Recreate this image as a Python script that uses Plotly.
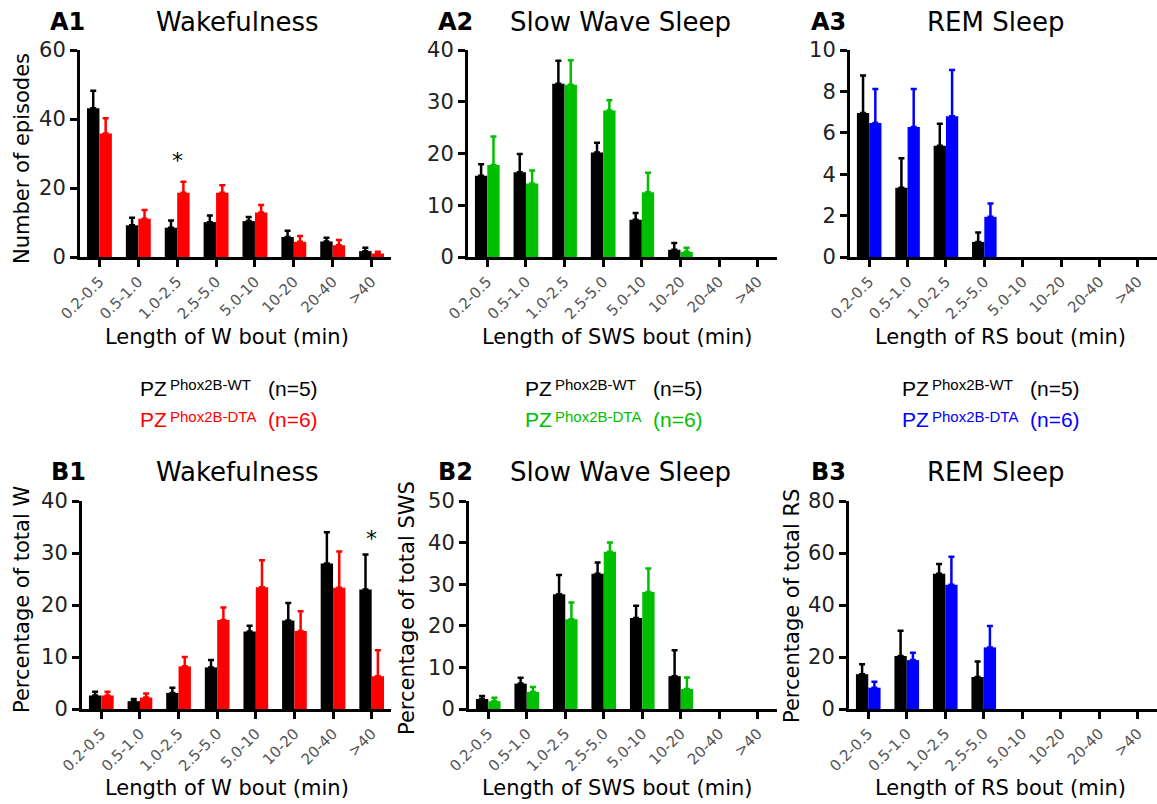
import plotly.graph_objects as go

W, H = 1157, 804

categories = ["0.2-0.5", "0.5-1.0", "1.0-2.5", "2.5-5.0", "5.0-10", "10-20", "20-40", ">40"]

# A1 Wakefulness: number of episodes
a1_wt_mean = [43.1, 9.2, 8.5, 10.1, 10.4, 5.8, 4.5, 1.7]
a1_wt_sem = [5.1, 2.2, 2.1, 1.9, 1.2, 1.8, 1.1, 1.0]
a1_dta_mean = [35.8, 11.1, 18.6, 18.6, 12.9, 4.4, 3.4, 1.0]
a1_dta_sem = [4.4, 2.5, 3.2, 2.2, 2.2, 1.7, 1.5, 0.5]

# A2 Slow wave sleep: number of episodes
a2_wt_mean = [15.7, 16.4, 33.5, 20.2, 7.2, 1.4, 0, 0]
a2_wt_sem = [2.2, 3.5, 4.4, 1.9, 1.3, 1.3, 0, 0]
a2_dta_mean = [17.8, 14.2, 33.3, 28.3, 12.5, 1.0, 0, 0]
a2_dta_sem = [5.5, 2.5, 4.7, 2.0, 3.8, 0.8, 0, 0]

# A3 REM sleep: number of episodes
a3_wt_mean = [6.96, 3.35, 5.37, 0.73, 0, 0, 0, 0]
a3_wt_sem = [1.81, 1.42, 1.07, 0.45, 0, 0, 0, 0]
a3_dta_mean = [6.47, 6.28, 6.80, 1.94, 0, 0, 0, 0]
a3_dta_sem = [1.65, 1.84, 2.23, 0.65, 0, 0, 0, 0]

# B1 Wakefulness: percentage of total W
b1_wt_mean = [2.6, 1.5, 3.1, 8.0, 14.9, 17.0, 28.0, 23.0]
b1_wt_sem = [0.7, 0.4, 1.0, 1.4, 1.1, 3.4, 6.0, 6.7]
b1_dta_mean = [2.6, 2.2, 8.2, 17.1, 23.4, 15.0, 23.3, 6.3]
b1_dta_sem = [0.7, 0.8, 1.8, 2.4, 5.2, 3.8, 7.0, 5.0]

# B2 Slow wave sleep: percentage of total SWS
b2_wt_mean = [2.4, 6.1, 27.6, 32.5, 21.9, 7.9, 0, 0]
b2_wt_sem = [0.7, 1.4, 4.6, 2.7, 2.9, 6.2, 0, 0]
b2_dta_mean = [1.85, 4.1, 21.6, 37.8, 28.1, 4.8, 0, 0]
b2_dta_sem = [0.85, 1.2, 4.0, 2.2, 5.7, 2.8, 0, 0]

# B3 REM sleep: percentage of total RS
b3_wt_mean = [13.4, 20.4, 52.0, 12.3, 0, 0, 0, 0]
b3_wt_sem = [3.8, 9.7, 3.8, 6.0, 0, 0, 0, 0]
b3_dta_mean = [8.2, 18.8, 47.8, 23.7, 0, 0, 0, 0]
b3_dta_sem = [2.3, 2.8, 10.8, 8.2, 0, 0, 0, 0]

panel_labels = ["A1", "A2", "A3", "B1", "B2", "B3"]
panel_titles = ["Wakefulness", "Slow Wave Sleep", "REM Sleep", "Wakefulness", "Slow Wave Sleep", "REM Sleep"]
x_titles = ["Length of W bout (min)", "Length of SWS bout (min)", "Length of RS bout (min)"] * 2
y_titles = ["Number of episodes", "", "", "Percentage of total W", "Percentage of total SWS", "Percentage of total RS"]
y_max = [60, 40, 10, 40, 50, 80]
y_dtick = [20, 10, 2, 10, 10, 20]

group_base = "PZ"
group_sup = ["Phox2B-WT", "Phox2B-DTA"]
group_n = ["(n=5)", "(n=6)"]

WT_COLOR = "#000000"
DTA_COLORS = ["#FF0000", "#00BF00", "#0000FF"]

FONT = "'DejaVu Sans', Verdana, sans-serif"
LEG_FONT = "Arial, 'Liberation Sans', sans-serif"

data = [
    (a1_wt_mean, a1_wt_sem, a1_dta_mean, a1_dta_sem),
    (a2_wt_mean, a2_wt_sem, a2_dta_mean, a2_dta_sem),
    (a3_wt_mean, a3_wt_sem, a3_dta_mean, a3_dta_sem),
    (b1_wt_mean, b1_wt_sem, b1_dta_mean, b1_dta_sem),
    (b2_wt_mean, b2_wt_sem, b2_dta_mean, b2_dta_sem),
    (b3_wt_mean, b3_wt_sem, b3_dta_mean, b3_dta_sem),
]

# layout in pixels
x_doms_px = [(80, 391), (468, 777), (850, 1157), (82, 391), (469, 777), (849, 1157)]
y_doms_px = [(50, 257)] * 3 + [(501, 709)] * 3


def fx(p):
    return p / W


def fy(p):
    return 1 - p / H


def nonzero(cats, mean, sem):
    """Keep only categories with recorded episodes (empty bins show no bar)."""
    keep = [j for j, m in enumerate(mean) if m > 0]
    return [cats[j] for j in keep], [mean[j] for j in keep], [sem[j] for j in keep]


fig = go.Figure()

for i, (wm, ws, dm, ds) in enumerate(data):
    k = "" if i == 0 else str(i + 1)
    col = DTA_COLORS[i % 3]
    for mean, sem, c, grp in ((wm, ws, WT_COLOR, "wt"), (dm, ds, col, "dta")):
        xs, ys, es = nonzero(categories, mean, sem)
        fig.add_trace(go.Bar(
            x=xs, y=ys, xaxis="x" + k, yaxis="y" + k,
            marker=dict(color=c, line=dict(width=0)),
            error_y=dict(type="data", symmetric=False, array=es, arrayminus=[0] * len(es),
                         color=c, thickness=2.5, width=3),
            offsetgroup=grp, showlegend=False, hoverinfo="skip",
        ))

layout = dict(
    width=W, height=H,
    margin=dict(l=0, r=0, t=0, b=0, autoexpand=False),
    paper_bgcolor="white", plot_bgcolor="white",
    barmode="group", bargap=0.36, bargroupgap=0,
    font=dict(family=FONT, color="#000"),
    showlegend=False,
)

for i in range(6):
    k = "" if i == 0 else str(i + 1)
    x0, x1 = x_doms_px[i]
    y0, y1 = y_doms_px[i]
    layout["xaxis" + k] = dict(
        domain=[fx(x0), fx(x1)], anchor="y" + k, type="category",
        range=[-0.5, 7.5], showgrid=False, zeroline=False, automargin=False,
        showline=True, linewidth=3, linecolor="#000",
        ticks="outside", ticklen=7, tickwidth=3, tickcolor="#000",
        tickangle=-45, tickfont=dict(size=15, color="#555", family=FONT),
        categoryorder="array", categoryarray=categories,
        tickmode="array", tickvals=categories, ticktext=categories,
    )
    layout["yaxis" + k] = dict(
        domain=[fy(y1), fy(y0)], anchor="x" + k, automargin=False,
        range=[0, y_max[i]], dtick=y_dtick[i], showgrid=False, zeroline=False,
        showline=True, linewidth=3, linecolor="#000",
        ticks="outside", ticklen=7, tickwidth=3, tickcolor="#000",
        tickfont=dict(size=21, color="#222", family=FONT),
    )

annotations = []


def txt(text, x, y, size, color="#000", family=FONT, xanchor="center", angle=0, weight="normal"):
    annotations.append(dict(text=text, x=fx(x), y=fy(y), xref="paper", yref="paper",
                            showarrow=False, xanchor=xanchor, yanchor="middle", textangle=angle,
                            font=dict(size=size, color=color, family=family, weight=weight)))


# panel labels and titles
label_x = [67, 455, 828, 68, 455, 829]
title_x = [237, 620, 995, 237, 620, 996]
title_y = [22, 22, 22, 472, 472, 472]
for i in range(6):
    txt(panel_labels[i], label_x[i], title_y[i], 24, weight="bold")
    txt(panel_titles[i], title_x[i], title_y[i], 26)

# axis titles
xt_x = [227, 617, 1000, 227, 617, 1000]
xt_y = [337, 337, 337, 788, 788, 788]
for i in range(6):
    txt(x_titles[i], xt_x[i], xt_y[i], 21)
yt_x = [22, None, None, 22, 407, 792]
yt_y = [159, None, None, 600, 608, 606]
for i in range(6):
    if y_titles[i]:
        txt(y_titles[i], yt_x[i], yt_y[i], 21, angle=-90)

# significance asterisks
annotations.append(dict(text="*", x="1.0-2.5", y=28.0, xref="x", yref="y", showarrow=False,
                        xanchor="center", yanchor="middle", font=dict(size=22, color="#000", family=FONT)))
annotations.append(dict(text="*", x=">40", y=32.8, xref="x4", yref="y4", showarrow=False,
                        xanchor="center", yanchor="middle", font=dict(size=22, color="#000", family=FONT)))

# group legends (base text, superscript and group size)
leg_x = [138, 523, 900]
row_y = [388, 420]
for j in range(3):
    for r in range(2):
        c = "#000" if r == 0 else DTA_COLORS[j]
        txt(group_base, leg_x[j], row_y[r], 21, color=c, family=LEG_FONT, xanchor="left")
        txt(group_sup[r], leg_x[j] + 30, row_y[r] - 4, 15, color=c, family=LEG_FONT, xanchor="left")
        txt(group_n[r], leg_x[j] + 128, row_y[r], 21, color=c, family=LEG_FONT, xanchor="left")

layout["annotations"] = annotations
fig.update_layout(**layout)

fig.write_html("out.html")
